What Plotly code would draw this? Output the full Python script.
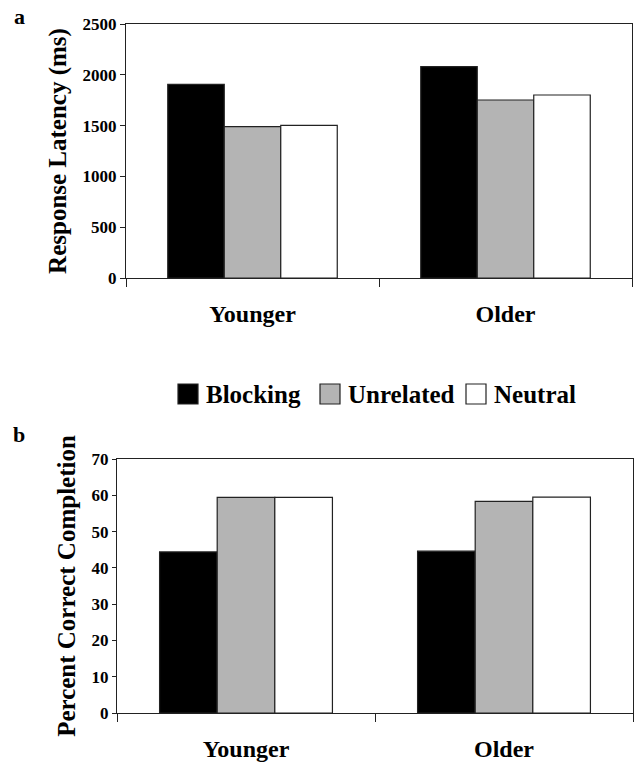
import plotly.graph_objects as go

groups = ["Younger", "Older"]
conditions = ["Blocking", "Unrelated", "Neutral"]
latency = {
    "Blocking": [1906, 2080],
    "Unrelated": [1489, 1752],
    "Neutral": [1503, 1801],
}
completion = {
    "Blocking": [44.4, 44.6],
    "Unrelated": [59.4, 58.3],
    "Neutral": [59.4, 59.5],
}
fills = {"Blocking": "#000000", "Unrelated": "#b4b4b4", "Neutral": "#ffffff"}
lat_ticks = [0, 500, 1000, 1500, 2000, 2500]
comp_ticks = [0, 10, 20, 30, 40, 50, 60, 70]

FONT = "Liberation Serif"
W, H = 635, 763

fig = go.Figure()
for c in conditions:
    fig.add_trace(go.Bar(x=groups, y=latency[c], name=c, marker_color=fills[c],
                         marker_line=dict(color="#222222", width=1.2),
                         xaxis="x", yaxis="y", showlegend=False))
for c in conditions:
    fig.add_trace(go.Bar(x=groups, y=completion[c], name=c, marker_color=fills[c],
                         marker_line=dict(color="#222222", width=1.2),
                         xaxis="x2", yaxis="y2", showlegend=False))

def px_x(p):
    return p / W

def px_y(p):
    return 1 - p / H

axis_common = dict(showline=True, linecolor="#222222", linewidth=1.3, mirror=True,
                   ticks="outside", tickcolor="#222222", showgrid=False, zeroline=False,
                   automargin=False)

xfont = dict(size=24, family=FONT, weight="bold", color="black")
yfont = dict(size=17, family=FONT, weight="bold", color="black")
tfont = dict(size=25, family=FONT, weight="bold", color="black")

fig.update_layout(
    template="none",
    width=W, height=H,
    margin=dict(l=0, r=0, t=0, b=0, pad=0),
    paper_bgcolor="white", plot_bgcolor="white",
    barmode="group", bargap=0.33, bargroupgap=0,
    showlegend=False,
    font=dict(family=FONT, color="black"),
    xaxis=dict(domain=[px_x(126), px_x(632)], anchor="y", type="category",
               tickson="boundaries", ticklen=8, tickfont=xfont,
               ticklabelstandoff=14, **axis_common),
    yaxis=dict(domain=[px_y(278), px_y(24)], anchor="x", range=[0, 2500],
               tickvals=lat_ticks, ticklen=5, tickfont=yfont,
               title=dict(text="Response Latency (ms)", font=tfont, standoff=8),
               **axis_common),
    xaxis2=dict(domain=[px_x(117), px_x(633)], anchor="y2", type="category",
                tickson="boundaries", ticklen=8, tickfont=xfont,
                ticklabelstandoff=14, **axis_common),
    yaxis2=dict(domain=[px_y(713), px_y(459)], anchor="x2", range=[0, 70],
                tickvals=comp_ticks, ticklen=4, tickfont=yfont,
                title=dict(text="Percent Correct Completion", font=tfont, standoff=8),
                **axis_common),
)

# panel letters
fig.add_annotation(text="a", x=px_x(19), y=px_y(17), xref="paper", yref="paper",
                   xanchor="center", yanchor="middle",
                   showarrow=False, font=dict(size=22, family=FONT, weight="bold"))
fig.add_annotation(text="b", x=px_x(19), y=px_y(434), xref="paper", yref="paper",
                   xanchor="center", yanchor="middle",
                   showarrow=False, font=dict(size=22, family=FONT, weight="bold"))

# legend (manual)
legend_items = [("Blocking", 178), ("Unrelated", 320), ("Neutral", 466)]
for name, x0 in legend_items:
    fig.add_shape(type="rect", xref="paper", yref="paper",
                  x0=px_x(x0), x1=px_x(x0 + 20), y0=px_y(404), y1=px_y(384),
                  fillcolor=fills[name], line=dict(color="#222222", width=1.2))
    fig.add_annotation(text=name, x=px_x(x0 + 26), y=px_y(394),
                       xref="paper", yref="paper", xanchor="left", yanchor="middle",
                       showarrow=False, font=dict(size=25, family=FONT, weight="bold"))

fig.write_html("out.html", config={"displayModeBar": False},
               post_script="document.body.style.margin='0';document.body.style.padding='0';"
                           "document.body.style.overflow='hidden';")
